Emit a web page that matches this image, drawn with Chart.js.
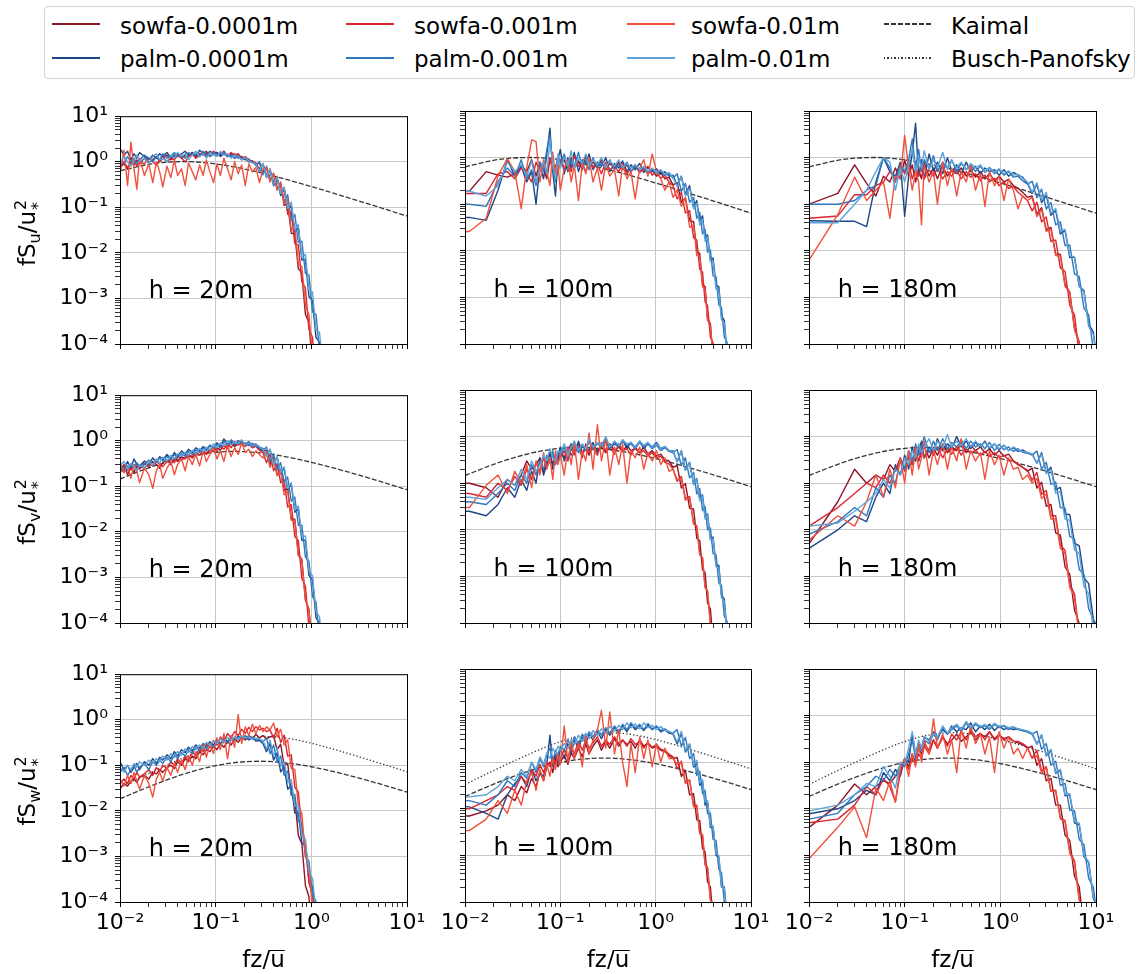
<!DOCTYPE html>
<html>
<head>
<meta charset="utf-8">
<title>Velocity spectra</title>
<script src="https://cdn.jsdelivr.net/npm/chart.js@4.4.6/dist/chart.umd.min.js"></script>
<style>
  body { margin: 0; background: #fff; font-family: "DejaVu Sans", sans-serif; color: #000; }
  #page { position: relative; width: 1137px; height: 974px; overflow: hidden; }
  canvas { position: absolute; }
  #legend { position: absolute; left: 44px; top: 6px; width: 1091px; height: 73px; box-sizing: border-box;
            border: 1px solid #d4d4d4; border-radius: 4px; background: #fff; }
  .lg-line { position: absolute; width: 48px; height: 1.6px; }
  .lg-text { position: absolute; font-size: 23px; line-height: 22px; white-space: nowrap; }
  .ytitle { position: absolute; font-size: 23px; line-height: 23px; white-space: nowrap;
            transform: translate(-50%, -50%) rotate(-90deg); }
  .xtitle { position: absolute; font-size: 23px; line-height: 23px; white-space: nowrap; transform: translateX(-50%); }
  .sb { font-size: 16px; vertical-align: -5px; line-height: 0; }
  .ss { display: inline-block; position: relative; width: 11px; height: 0; }
  .sp { position: absolute; left: 1px; bottom: 6px; font-size: 16px; line-height: 16px; }
  .sk { position: absolute; left: 1px; top: -5px; font-size: 16px; line-height: 16px; }
  .ob { display: inline-block; border-top: 1.3px solid #000; line-height: 17px; }
</style>
</head>
<body>
<div id="page"><div id="legend"></div></div>
<script>
// ---- labels ----
const SERIES_LABELS = ['sowfa-0.0001m', 'palm-0.0001m', 'sowfa-0.001m', 'palm-0.001m', 'sowfa-0.01m', 'palm-0.01m'];
const SERIES_COLORS = ['#8e1527', '#1e4686', '#db2530', '#2f78bf', '#f0503c', '#5ba3d8'];
const MODEL_LABELS = ['Kaimal', 'Busch-Panofsky'];
const HEIGHT_LABELS = ['h = 20m', 'h = 100m', 'h = 180m'];
const COMPONENTS = ['u', 'v', 'w'];
const X_TICK_VALUES = [0.01, 0.1, 1, 10];
const X_TICK_LABELS = ['10⁻²', '10⁻¹', '10⁰', '10¹'];
const Y_TICK_VALUES = [1e-4, 1e-3, 1e-2, 1e-1, 1, 10];
const Y_TICK_LABELS = ['10⁻⁴', '10⁻³', '10⁻²', '10⁻¹', '10⁰', '10¹'];

// ---- frequency grids (fz/U) ----
const X20 = [0.010,0.011,0.012,0.013,0.014,0.015,0.016,0.018,0.020,0.022,0.024,0.026,0.028,0.031,0.034,0.037,0.040,0.044,0.048,0.052,0.057,0.062,0.068,0.074,0.080,0.087,0.095,0.103,0.112,0.122,0.133,0.145,0.158,0.172,0.187,0.204,0.222,0.242,0.263,0.287,0.312,0.340,0.370,0.403,0.439,0.478,0.520,0.566,0.617,0.672,0.731,0.796,0.867,0.944,1.028,1.119,1.218,1.326];
const X100 = [0.0056,0.0111,0.0167,0.0222,0.0278,0.0333,0.0389,0.0444,0.05,0.0556,0.0611,0.0667,0.0722,0.0778,0.0833,0.0889,0.0944,0.1,0.11,0.12,0.13,0.14,0.155,0.17,0.185,0.2,0.22,0.245,0.27,0.3,0.33,0.37,0.41,0.45,0.5,0.55,0.61,0.68,0.75,0.83,0.92,1.02,1.13,1.25,1.38,1.52,1.68,1.86,2.05,2.27,2.5,2.7,2.9,3.1,3.3,3.5,3.75,4.0,4.3,4.6,4.9,5.25,5.6,6.0];
const X180 = [0.01,0.02,0.03,0.04,0.05,0.06,0.07,0.08,0.09,0.1,0.11,0.12,0.13,0.14,0.15,0.16,0.18,0.2,0.22,0.25,0.28,0.31,0.35,0.39,0.44,0.49,0.55,0.62,0.69,0.77,0.87,0.97,1.09,1.22,1.37,1.53,1.71,1.92,2.15,2.41,2.7,3.02,3.38,3.79,4.24,4.75,5.32,5.96,6.68,7.48,8.38,9.38,10.5];
const MODEL_X = [0.01,0.02,0.03,0.05,0.07,0.1,0.15,0.2,0.3,0.5,0.7,1,1.5,2,3,5,7,10];

// ---- reference spectra ----
const KAIMAL_U = [0.634,0.876,0.972,1.005,0.971,0.897,0.783,0.694,0.571,0.432,0.355,0.285,0.222,0.184,0.142,0.102,0.0815,0.0643];
const KAIMAL_V = [0.146,0.2545,0.336,0.445,0.509,0.559,0.583,0.576,0.539,0.461,0.400,0.337,0.272,0.231,0.181,0.132,0.106,0.0843];
const KAIMAL_W = [0.0184,0.0338,0.0469,0.0676,0.0827,0.0984,0.1132,0.1199,0.1228,0.1155,0.1057,0.093,0.0777,0.0672,0.0539,0.0399,0.0324,0.0259];
const BUSCH_W = [0.0335,0.0662,0.098,0.157,0.210,0.277,0.355,0.399,0.431,0.405,0.361,0.306,0.244,0.205,0.159,0.114,0.0915,0.0722];

// ---- h = 20m ----
const U20_S1 = [0.75,0.9,0.7,1.0,0.85,1.1,0.9,1.2,0.95,1.1,1.3,1.0,1.2,1.4,1.1,1.3,1.5,1.2,1.4,1.3,1.6,1.2,1.5,1.4,1.7,1.3,1.5,1.6,1.4,1.7,1.3,1.5,1.2,1.4,1.1,1.2,1.0,1.05,0.85,0.95,0.6,0.75,0.4,0.55,0.26,0.32,0.11,0.12,0.027,0.026,0.0045,0.0036,4.5e-4,3e-4,3.2e-5,null,null,null];
const U20_P1 = [2.0,1.4,1.7,1.1,1.5,1.2,1.6,1.3,1.1,1.4,1.2,1.5,1.3,1.6,1.2,1.4,1.3,1.5,1.7,1.4,1.6,1.3,1.8,1.5,1.4,1.7,1.5,1.6,1.3,1.5,1.4,1.3,1.5,1.2,1.3,1.1,1.15,0.95,0.9,0.6,0.9,0.45,0.65,0.3,0.42,0.18,0.25,0.085,0.11,0.028,0.036,0.007,0.0072,0.0011,9e-4,1.4e-4,1.1e-4,1.6e-5];
const U20_S2 = [0.8,1.0,0.75,0.9,1.1,0.8,1.0,0.9,1.2,1.0,0.85,1.1,1.3,1.0,1.2,1.1,1.4,1.2,1.0,1.3,1.5,1.2,1.4,1.6,1.3,1.5,1.7,1.4,1.6,1.5,1.3,1.6,1.4,1.5,1.2,1.3,1.1,1.0,0.95,0.7,0.9,0.5,0.7,0.36,0.48,0.2,0.27,0.07,0.08,0.016,0.015,0.0023,0.0017,2.1e-4,1.4e-4,1.6e-5,null,null];
const U20_P2 = [1.1,0.9,1.3,1.0,1.2,0.9,1.1,1.4,1.2,1.0,1.3,1.1,1.5,1.2,1.3,1.6,1.3,1.4,1.2,1.6,1.4,1.5,1.3,1.7,1.5,1.3,1.6,1.4,1.5,1.6,1.3,1.4,1.2,1.35,1.15,1.2,1.0,1.0,0.85,1.0,0.52,0.8,0.38,0.56,0.24,0.35,0.13,0.19,0.052,0.07,0.017,0.018,0.0035,0.0033,5e-4,4.5e-4,7e-5,6e-5];
const U20_S3 = [0.55,1.8,0.3,2.7,0.7,0.25,1.2,0.5,0.9,0.35,1.0,0.6,0.28,0.8,0.45,1.1,0.5,0.7,0.3,0.95,0.6,0.4,0.85,0.5,1.1,0.6,0.35,0.9,0.5,1.2,0.7,0.4,1.0,0.55,0.85,0.3,0.9,0.6,0.75,0.35,0.7,0.75,0.36,0.55,0.24,0.36,0.12,0.15,0.032,0.036,0.0058,0.005,7e-4,4.5e-4,5.5e-5,3.2e-5,null,null];
const U20_P3 = [0.95,1.3,1.0,0.8,1.1,1.4,1.0,1.2,0.9,1.3,1.5,1.1,1.2,1.0,1.4,1.2,1.6,1.3,1.5,1.1,1.4,1.7,1.3,1.5,1.2,1.6,1.4,1.3,1.7,1.4,1.5,1.2,1.4,1.3,1.1,1.25,1.05,0.95,0.9,0.62,0.92,0.46,0.68,0.32,0.46,0.2,0.28,0.095,0.13,0.032,0.042,0.008,0.0093,0.0015,0.0014,2e-4,1.8e-4,2.8e-5];

const V20_S1 = [0.22,0.3,0.18,0.26,0.2,0.28,0.24,0.32,0.27,0.35,0.3,0.25,0.33,0.38,0.3,0.42,0.35,0.45,0.4,0.5,0.42,0.55,0.48,0.6,0.52,0.65,0.58,0.7,0.62,0.8,0.68,0.9,0.75,0.85,0.95,0.78,0.9,0.72,0.8,0.65,0.6,0.62,0.3,0.43,0.18,0.23,0.08,0.09,0.019,0.019,0.0032,0.0025,3.2e-4,2e-4,2.6e-5,null,null,null];
const V20_P1 = [0.3,0.22,0.35,0.25,0.4,0.3,0.28,0.36,0.3,0.42,0.34,0.45,0.38,0.5,0.4,0.55,0.45,0.6,0.5,0.65,0.55,0.7,0.6,0.75,0.65,0.8,0.7,0.9,0.75,1.1,0.85,0.95,0.8,1.0,0.9,0.85,0.95,0.8,0.85,0.72,0.68,0.45,0.65,0.3,0.44,0.19,0.25,0.085,0.11,0.027,0.032,0.0065,0.0066,0.0011,9e-4,1.3e-4,1e-4,1.4e-5];
const V20_S2 = [0.25,0.2,0.28,0.23,0.3,0.22,0.27,0.25,0.33,0.28,0.36,0.3,0.27,0.35,0.4,0.33,0.45,0.38,0.42,0.5,0.45,0.55,0.48,0.62,0.5,0.58,0.7,0.6,0.75,0.65,0.85,0.7,0.95,0.8,0.9,0.75,0.85,0.7,0.75,0.62,0.55,0.33,0.52,0.22,0.31,0.12,0.14,0.035,0.04,0.0078,0.0065,9.5e-4,6.5e-4,8e-5,5e-5,null,null,null];
const V20_P2 = [0.2,0.27,0.22,0.3,0.25,0.33,0.27,0.3,0.38,0.3,0.35,0.42,0.36,0.45,0.38,0.5,0.42,0.52,0.46,0.58,0.5,0.62,0.55,0.7,0.6,0.78,0.66,0.82,0.72,0.95,0.8,1.05,0.85,0.95,0.82,0.9,0.78,0.88,0.75,0.7,0.62,0.73,0.34,0.52,0.23,0.33,0.12,0.16,0.047,0.058,0.014,0.014,0.0028,0.0023,3.8e-4,2.9e-4,4.5e-5,3.2e-5];
const V20_S3 = [0.35,0.2,0.28,0.15,0.3,0.22,0.12,0.25,0.18,0.09,0.22,0.3,0.15,0.25,0.35,0.18,0.3,0.4,0.22,0.45,0.3,0.5,0.28,0.6,0.35,0.5,0.7,0.4,0.6,0.35,0.8,0.45,0.7,0.5,0.9,0.55,0.65,0.45,0.6,0.5,0.42,0.57,0.26,0.39,0.17,0.22,0.065,0.08,0.018,0.018,0.003,0.0024,3.2e-4,2e-4,2.6e-5,null,null,null];
const V20_P3 = [0.28,0.35,0.25,0.32,0.27,0.22,0.3,0.26,0.34,0.29,0.4,0.32,0.44,0.36,0.48,0.4,0.52,0.45,0.56,0.48,0.62,0.52,0.68,0.58,0.72,0.62,0.85,0.7,0.9,0.78,1.0,0.82,0.92,0.86,1.05,0.8,0.9,0.76,0.82,0.74,0.66,0.45,0.65,0.3,0.44,0.2,0.27,0.09,0.12,0.03,0.037,0.0078,0.0081,0.0014,0.0011,1.8e-4,1.35e-4,1.9e-5];

const W20_S1 = [0.03,0.04,0.035,0.045,0.05,0.042,0.055,0.06,0.05,0.07,0.065,0.08,0.07,0.09,0.1,0.085,0.12,0.1,0.14,0.12,0.16,0.14,0.2,0.17,0.22,0.2,0.26,0.22,0.3,0.25,0.33,0.28,0.38,0.32,0.42,0.36,0.45,0.38,0.48,0.4,0.45,0.38,0.42,0.45,0.22,0.29,0.1,0.11,0.023,0.019,0.0029,0.0019,2.3e-4,1.3e-4,1.4e-5,null,null,null];
const W20_P1 = [0.12,0.08,0.1,0.07,0.09,0.11,0.08,0.12,0.1,0.14,0.11,0.15,0.13,0.17,0.14,0.2,0.16,0.22,0.19,0.25,0.21,0.28,0.24,0.3,0.26,0.33,0.28,0.36,0.3,0.4,0.33,0.42,0.35,0.44,0.38,0.42,0.36,0.4,0.34,0.35,0.3,0.2,0.3,0.13,0.19,0.072,0.095,0.03,0.036,0.009,0.0095,0.002,0.0017,2.9e-4,2.2e-4,3.9e-5,2.8e-5,null];
const W20_S2 = [0.04,0.05,0.04,0.06,0.05,0.07,0.055,0.065,0.08,0.06,0.09,0.075,0.1,0.085,0.12,0.1,0.14,0.11,0.16,0.13,0.2,0.16,0.24,0.2,0.3,0.24,0.35,0.28,0.42,0.33,0.5,0.4,0.55,0.45,0.62,0.5,0.68,0.55,0.7,0.6,0.65,0.55,0.6,0.4,0.65,0.32,0.46,0.16,0.17,0.033,0.026,0.0036,0.0022,2.6e-4,1.45e-4,1.6e-5,null,null];
const W20_P2 = [0.07,0.09,0.06,0.08,0.1,0.07,0.09,0.11,0.08,0.12,0.1,0.13,0.11,0.15,0.12,0.17,0.14,0.19,0.16,0.22,0.18,0.25,0.21,0.28,0.23,0.3,0.26,0.34,0.28,0.37,0.31,0.4,0.34,0.42,0.37,0.45,0.38,0.42,0.36,0.38,0.33,0.4,0.18,0.28,0.12,0.16,0.06,0.075,0.022,0.023,0.0058,0.0052,0.001,8e-4,1.4e-4,1.05e-4,1.7e-5,null];
const W20_S3 = [0.05,0.035,0.06,0.04,0.07,0.045,0.03,0.06,0.04,0.02,0.05,0.07,0.045,0.09,0.06,0.11,0.07,0.13,0.08,0.16,0.1,0.2,0.12,0.28,0.15,0.3,0.18,0.4,0.22,0.5,0.14,0.45,0.25,1.3,0.3,0.7,0.45,0.8,0.5,0.75,0.55,0.7,0.6,0.85,0.42,0.62,0.28,0.36,0.085,0.08,0.013,0.0087,0.001,6e-4,6.8e-5,3.8e-5,null,null];
const W20_P3 = [0.09,0.07,0.1,0.08,0.11,0.09,0.12,0.1,0.13,0.11,0.14,0.12,0.16,0.13,0.18,0.15,0.2,0.17,0.23,0.19,0.26,0.22,0.28,0.24,0.32,0.27,0.35,0.3,0.38,0.32,0.41,0.35,0.43,0.37,0.44,0.4,0.42,0.38,0.4,0.37,0.35,0.23,0.36,0.16,0.24,0.095,0.12,0.043,0.048,0.013,0.013,0.0029,0.0023,4.5e-4,3.3e-4,5.8e-5,4.2e-5,null];

// ---- h = 100m ----
const U100_S1 = [0.19,0.19,0.5,0.42,0.38,0.45,0.7,0.5,0.9,0.4,0.8,0.55,0.35,0.9,0.6,0.45,1.1,0.7,0.9,0.5,1.0,0.6,0.85,0.55,1.1,0.7,0.8,0.6,0.9,0.55,0.75,0.6,0.8,0.55,0.7,0.5,0.65,0.48,0.6,0.45,0.55,0.4,0.48,0.35,0.38,0.26,0.29,0.11,0.135,0.044,0.042,0.0098,0.0087,0.0019,0.0017,3.5e-4,2.7e-4,4.9e-5,3.2e-5,null,null,null,null,null];
const U100_P1 = [0.05,0.052,0.045,0.2,0.9,0.4,0.65,0.3,0.5,0.1,0.7,0.35,1.2,4.3,0.5,0.15,0.9,1.5,0.45,1.0,0.6,1.3,0.5,0.9,0.7,1.2,0.55,0.8,0.65,1.0,0.5,0.75,0.6,0.85,0.5,0.7,0.55,0.75,0.48,0.62,0.5,0.58,0.44,0.5,0.4,0.42,0.25,0.4,0.16,0.25,0.086,0.12,0.043,0.056,0.019,0.022,0.0065,0.007,0.0018,0.0017,4e-4,3.2e-4,6.5e-5,4.9e-5];
const U100_S2 = [0.17,0.17,0.17,0.45,0.5,0.35,0.6,0.45,0.3,0.8,0.5,0.7,0.4,1.0,0.55,0.7,0.45,0.9,0.6,0.8,0.5,1.1,0.65,0.75,0.5,0.9,0.6,0.7,0.45,0.8,0.55,0.65,0.5,0.75,0.45,0.6,0.7,0.5,0.55,0.65,0.42,0.5,0.36,0.42,0.3,0.25,0.13,0.18,0.065,0.073,0.019,0.017,0.004,0.0035,8e-4,6.7e-4,1.4e-4,1.05e-4,1.8e-5,null,null,null,null,null];
const U100_P2 = [0.1,0.1,0.09,0.3,0.6,0.4,0.9,0.35,0.55,0.25,0.8,0.5,1.5,3.0,0.6,0.3,1.1,0.7,1.2,0.55,0.9,0.65,1.3,0.6,0.85,0.55,1.0,0.6,0.8,0.6,0.9,0.55,0.7,0.6,0.8,0.5,0.65,0.55,0.6,0.5,0.56,0.45,0.52,0.42,0.45,0.36,0.45,0.19,0.28,0.11,0.14,0.05,0.067,0.023,0.029,0.0094,0.0105,0.0029,0.0028,6.8e-4,6.2e-4,1.4e-4,1.1e-4,2.2e-5];
const U100_S3 = [0.026,0.026,0.05,0.4,0.95,0.5,0.08,0.6,2.4,2.2,0.3,0.9,0.5,0.25,1.3,0.4,0.7,0.2,0.6,0.9,0.3,0.7,0.12,0.8,0.45,1.0,0.3,0.6,0.2,0.75,0.4,0.55,0.15,0.7,0.35,0.5,0.13,0.6,0.9,0.4,1.2,0.5,0.35,0.2,0.3,0.14,0.2,0.09,0.14,0.032,0.035,0.0079,0.0077,0.0017,0.0015,3.2e-4,2.5e-4,5e-5,3.4e-5,null,null,null,null,null];
const U100_P3 = [0.19,0.19,0.15,0.25,0.8,0.5,0.7,0.4,0.85,0.3,0.55,0.8,0.45,2.5,0.7,0.35,1.2,0.6,1.0,0.7,1.4,0.6,1.0,0.75,1.2,0.65,0.9,0.7,1.0,0.6,0.85,0.65,0.9,0.6,0.75,0.6,0.7,0.55,0.65,0.5,0.6,0.48,0.55,0.44,0.48,0.38,0.24,0.39,0.15,0.22,0.079,0.105,0.036,0.048,0.016,0.02,0.0058,0.006,0.0015,0.0014,3.3e-4,2.8e-4,6.1e-5,4.5e-5];

const V100_S1 = [0.1,0.1,0.08,0.05,0.12,0.09,0.15,0.3,0.2,0.25,0.35,0.18,0.3,0.45,0.25,0.4,0.3,0.5,0.35,0.6,0.4,0.5,0.7,0.45,0.55,0.4,0.65,0.5,0.6,0.45,0.7,0.5,0.6,0.48,0.65,0.5,0.55,0.45,0.6,0.42,0.5,0.38,0.42,0.32,0.3,0.22,0.24,0.079,0.098,0.029,0.028,0.0065,0.0059,0.0014,0.0012,2.7e-4,2e-4,4e-5,2.5e-5,null,null,null,null,null];
const V100_P1 = [0.025,0.025,0.02,0.035,0.08,0.05,0.12,0.07,0.18,0.1,0.35,0.15,0.25,0.45,0.2,0.35,0.3,0.6,0.3,0.5,0.7,0.4,0.8,0.45,0.6,0.5,0.75,0.45,0.65,0.8,0.55,0.7,0.6,0.85,0.55,0.75,0.6,0.8,0.55,0.7,0.6,0.75,0.55,0.6,0.5,0.5,0.29,0.5,0.19,0.28,0.094,0.126,0.045,0.056,0.019,0.022,0.0065,0.007,0.0018,0.0017,4e-4,3.2e-4,6.5e-5,4.9e-5];
const V100_S2 = [0.06,0.06,0.05,0.1,0.07,0.14,0.09,0.2,0.12,0.28,0.18,0.35,0.22,0.3,0.4,0.25,0.45,0.35,0.5,0.3,0.55,0.42,0.6,0.35,0.7,0.45,0.55,0.4,0.75,0.5,0.6,0.42,0.7,0.5,0.55,0.4,0.6,0.45,0.5,0.38,0.45,0.34,0.38,0.28,0.26,0.2,0.11,0.14,0.047,0.052,0.014,0.012,0.003,0.0025,5.8e-4,4.9e-4,9.7e-5,7e-5,1.2e-5,null,null,null,null,null];
const V100_P2 = [0.04,0.04,0.035,0.06,0.1,0.07,0.15,0.1,0.25,0.15,0.3,0.2,0.4,0.3,0.5,0.25,0.45,0.4,0.6,0.35,0.55,0.7,0.45,0.65,0.5,0.8,0.55,0.7,0.6,0.9,0.55,0.75,0.6,0.8,0.65,0.7,0.55,0.75,0.6,0.7,0.55,0.65,0.5,0.58,0.48,0.45,0.53,0.24,0.35,0.13,0.17,0.059,0.077,0.026,0.032,0.01,0.011,0.0031,0.0029,7.2e-4,6.4e-4,1.4e-4,1.1e-4,2.2e-5];
const V100_S3 = [0.03,0.03,0.09,0.15,0.06,0.18,0.1,0.25,0.08,0.3,0.15,0.45,0.2,0.35,0.12,0.5,0.25,0.4,0.15,0.6,0.25,0.8,0.12,0.5,0.3,1.2,0.2,1.8,0.3,0.9,0.15,0.6,0.25,0.7,0.1,0.5,0.35,0.6,0.2,0.45,0.3,0.5,0.25,0.35,0.18,0.2,0.12,0.126,0.043,0.049,0.013,0.012,0.0029,0.0025,5.8e-4,4.8e-4,9.4e-5,7e-5,1.2e-5,null,null,null,null,null];
const V100_P3 = [0.05,0.05,0.045,0.08,0.12,0.09,0.2,0.12,0.3,0.18,0.25,0.4,0.3,0.55,0.35,0.3,0.5,0.45,0.7,0.4,0.6,0.8,0.5,0.7,0.55,0.9,0.6,0.75,0.65,1.0,0.6,0.8,0.65,0.85,0.7,0.75,0.6,0.8,0.65,0.75,0.6,0.7,0.55,0.62,0.5,0.48,0.29,0.49,0.19,0.27,0.094,0.123,0.042,0.053,0.017,0.021,0.0061,0.0064,0.0016,0.0015,3.5e-4,2.9e-4,6.1e-5,4.5e-5];

const W100_S1 = [0.007,0.007,0.009,0.012,0.02,0.015,0.03,0.022,0.045,0.03,0.06,0.04,0.08,0.1,0.06,0.12,0.08,0.1,0.14,0.09,0.16,0.12,0.2,0.13,0.25,0.15,0.22,0.3,0.18,0.28,0.2,0.32,0.22,0.3,0.24,0.28,0.2,0.3,0.22,0.26,0.2,0.22,0.18,0.17,0.14,0.12,0.126,0.05,0.066,0.02,0.021,0.0058,0.0056,0.0014,0.0012,2.7e-4,2.1e-4,4.3e-5,2.8e-5,null,null,null,null,null];
const W100_P1 = [0.012,0.011,0.008,0.006,0.02,0.035,0.05,0.03,0.07,0.04,0.06,0.05,0.09,0.38,0.08,0.15,0.1,0.2,0.12,0.25,0.15,0.3,0.2,0.35,0.25,0.4,0.3,0.45,0.32,0.5,0.38,0.55,0.42,0.6,0.45,0.65,0.5,0.6,0.48,0.62,0.5,0.58,0.45,0.5,0.42,0.4,0.245,0.42,0.166,0.24,0.079,0.098,0.032,0.039,0.012,0.014,0.004,0.0041,0.001,9.1e-4,2.1e-4,2.1e-4,4.7e-5,3.4e-5];
const W100_S2 = [0.01,0.01,0.015,0.02,0.03,0.025,0.05,0.035,0.07,0.05,0.09,0.06,0.1,0.08,0.13,0.09,0.15,0.12,0.18,0.12,0.22,0.15,0.28,0.18,0.3,0.2,0.26,0.35,0.22,0.3,0.24,0.35,0.25,0.3,0.22,0.32,0.24,0.28,0.2,0.26,0.21,0.24,0.19,0.18,0.15,0.13,0.072,0.106,0.036,0.042,0.0115,0.012,0.003,0.0028,6.5e-4,5.6e-4,1.15e-4,9.1e-5,1.6e-5,null,null,null,null,null];
const W100_P2 = [0.015,0.015,0.012,0.02,0.04,0.03,0.06,0.045,0.1,0.06,0.12,0.08,0.15,0.2,0.1,0.18,0.14,0.22,0.18,0.3,0.22,0.35,0.25,0.4,0.3,0.45,0.35,0.5,0.38,0.55,0.42,0.6,0.45,0.65,0.5,0.7,0.55,0.65,0.5,0.68,0.52,0.6,0.48,0.52,0.44,0.42,0.5,0.22,0.34,0.12,0.154,0.052,0.064,0.021,0.025,0.0079,0.0081,0.0022,0.0021,5e-4,4.3e-4,1e-4,8.4e-5,1.6e-5];
const W100_S3 = [0.0034,0.0034,0.006,0.015,0.008,0.025,0.012,0.04,0.06,0.025,0.07,0.04,0.09,0.05,0.12,0.07,0.15,0.09,0.6,0.1,0.3,0.12,0.25,0.08,0.4,0.15,0.3,0.5,1.3,0.2,1.2,0.15,0.5,0.1,0.03,0.25,0.06,0.35,0.12,0.3,0.08,0.25,0.1,0.2,0.12,0.12,0.09,0.1,0.035,0.041,0.011,0.011,0.0029,0.0027,6.1e-4,5.3e-4,1.1e-4,8.4e-5,1.4e-5,null,null,null,null,null];
const W100_P3 = [0.018,0.018,0.02,0.03,0.05,0.04,0.07,0.05,0.1,0.07,0.13,0.09,0.16,0.12,0.2,0.15,0.22,0.18,0.25,0.2,0.3,0.24,0.38,0.28,0.42,0.32,0.48,0.38,0.52,0.42,0.58,0.46,0.62,0.5,0.7,0.55,0.66,0.52,0.7,0.55,0.62,0.5,0.58,0.48,0.46,0.42,0.27,0.46,0.18,0.25,0.086,0.11,0.036,0.043,0.014,0.015,0.0043,0.0043,0.0011,9.8e-4,2.2e-4,2e-4,4.5e-5,3.4e-5];

// ---- h = 180m ----
const U180_S1 = [0.1,0.17,0.7,0.28,0.15,0.4,0.3,0.6,0.35,0.9,0.4,0.7,0.3,0.55,0.35,0.8,0.4,0.6,0.35,0.65,0.4,0.55,0.45,0.6,0.4,0.55,0.38,0.5,0.35,0.45,0.32,0.4,0.3,0.34,0.25,0.22,0.18,0.14,0.15,0.061,0.084,0.028,0.032,0.0086,0.0084,0.0019,0.0013,2.2e-4,1.1e-4,1.4e-5,null,null,null];
const U180_P1 = [0.044,0.043,0.043,0.033,0.3,1.0,0.5,0.4,0.8,0.055,0.4,1.2,5.5,0.4,0.9,0.35,1.2,0.5,0.8,0.45,1.0,0.5,0.7,0.45,0.8,0.5,0.65,0.45,0.6,0.5,0.55,0.42,0.55,0.4,0.48,0.42,0.38,0.28,0.17,0.27,0.108,0.154,0.058,0.073,0.023,0.027,0.0072,0.0073,0.0017,0.0014,2.7e-4,1.8e-4,2.9e-5];
const U180_S2 = [0.05,0.056,0.16,0.16,0.25,0.3,0.5,0.35,0.7,0.45,0.8,0.35,0.6,0.4,0.7,0.35,0.55,0.4,0.6,0.35,0.5,0.4,0.55,0.35,0.5,0.38,0.45,0.32,0.42,0.3,0.36,0.25,0.3,0.22,0.24,0.18,0.15,0.12,0.072,0.11,0.042,0.053,0.016,0.017,0.0043,0.0036,6.8e-4,4.2e-4,5.8e-5,2.8e-5,null,null,null];
const U180_P2 = [0.1,0.1,0.12,0.2,0.25,1.0,0.6,0.3,0.7,0.5,0.9,2.5,0.6,1.5,0.5,0.9,0.6,1.1,0.5,0.8,0.6,0.9,0.5,0.75,0.55,0.7,0.5,0.65,0.48,0.6,0.45,0.55,0.42,0.5,0.38,0.4,0.32,0.27,0.31,0.137,0.21,0.079,0.109,0.036,0.042,0.013,0.0133,0.0032,0.0028,5.8e-4,4.2e-4,7.2e-5,4.9e-5];
const U180_S3 = [0.0063,0.06,0.38,0.12,0.2,0.3,0.05,0.4,0.35,3.0,0.6,0.2,0.5,0.3,0.036,0.7,0.3,0.5,0.1,0.8,0.25,0.6,0.15,0.5,0.3,0.7,0.2,0.45,0.09,0.5,0.25,0.4,0.12,0.35,0.2,0.08,0.15,0.12,0.14,0.054,0.077,0.026,0.029,0.0079,0.0077,0.0017,0.0013,2e-4,1.05e-4,1.4e-5,null,null,null];
const U180_P3 = [0.04,0.04,0.1,0.2,0.5,1.0,0.8,0.2,0.6,0.3,0.7,1.6,0.5,1.0,0.6,1.4,0.55,0.9,0.6,1.3,0.55,0.85,0.6,0.8,0.55,0.75,0.6,0.7,0.5,0.62,0.48,0.58,0.45,0.52,0.42,0.44,0.36,0.3,0.18,0.29,0.122,0.18,0.065,0.081,0.026,0.029,0.0079,0.0073,0.0017,0.0013,2.4e-4,1.6e-4,2.9e-5];

const V180_S1 = [0.005,0.04,0.2,0.1,0.15,0.12,0.25,0.18,0.35,0.2,0.4,0.25,0.5,0.3,0.45,0.6,0.35,0.55,0.4,0.7,0.45,0.6,0.5,0.75,0.45,0.65,0.5,0.6,0.45,0.55,0.4,0.5,0.38,0.42,0.3,0.25,0.22,0.18,0.21,0.079,0.105,0.032,0.035,0.0086,0.0077,0.0016,0.0011,1.9e-4,9.8e-5,1.3e-5,null,null,null];
const V180_P1 = [0.004,0.01,0.02,0.015,0.05,0.1,0.06,0.25,0.15,0.4,0.2,0.6,0.3,0.5,0.8,0.35,0.6,0.45,0.9,0.5,0.7,0.55,1.0,0.6,0.8,0.55,0.75,0.6,0.8,0.55,0.7,0.52,0.65,0.5,0.58,0.48,0.52,0.45,0.42,0.27,0.45,0.17,0.22,0.072,0.081,0.022,0.021,0.0052,0.0045,9.4e-4,7e-4,1.2e-4,7.7e-5];
const V180_S2 = [0.012,0.03,0.06,0.1,0.08,0.15,0.1,0.2,0.3,0.18,0.35,0.25,0.4,0.3,0.55,0.35,0.5,0.4,0.6,0.35,0.55,0.42,0.6,0.4,0.55,0.45,0.5,0.4,0.48,0.38,0.45,0.35,0.4,0.32,0.3,0.26,0.22,0.19,0.115,0.17,0.058,0.07,0.02,0.02,0.0047,0.0036,6.8e-4,4.2e-4,5.8e-5,2.8e-5,null,null,null];
const V180_P2 = [0.008,0.015,0.03,0.02,0.08,0.05,0.15,0.1,0.3,0.2,0.5,0.3,0.7,0.4,0.6,1.0,0.45,0.8,0.5,0.9,0.55,0.75,0.6,0.85,0.55,0.8,0.6,0.7,0.55,0.75,0.5,0.68,0.52,0.6,0.48,0.55,0.46,0.44,0.4,0.49,0.2,0.28,0.094,0.106,0.03,0.029,0.0072,0.0064,0.0014,0.0011,2e-4,1.26e-4,2e-5];
const V180_S3 = [0.006,0.02,0.012,0.04,0.15,0.05,0.2,0.08,0.35,0.1,0.5,0.15,0.6,0.2,0.35,0.8,0.15,0.5,0.25,0.7,0.2,0.6,0.3,0.9,0.2,0.5,0.3,0.45,0.12,0.5,0.25,0.4,0.15,0.35,0.2,0.22,0.12,0.15,0.1,0.126,0.047,0.059,0.017,0.017,0.004,0.0031,5.8e-4,3.6e-4,5e-5,2.5e-5,null,null,null];
const V180_P3 = [0.012,0.014,0.025,0.04,0.06,0.12,0.08,0.2,0.15,0.35,0.25,0.5,0.35,0.7,0.45,0.6,0.9,0.5,0.8,0.6,1.1,0.6,0.8,0.65,0.9,0.6,0.8,0.62,0.75,0.58,0.7,0.55,0.65,0.5,0.6,0.52,0.48,0.46,0.42,0.27,0.42,0.16,0.2,0.061,0.066,0.017,0.016,0.0037,0.0031,6.1e-4,4.2e-4,7.2e-5,4.2e-5];

const W180_S1 = [0.004,0.012,0.034,0.02,0.03,0.04,0.035,0.05,0.06,0.12,0.08,0.15,0.1,0.2,0.15,0.25,0.18,0.3,0.2,0.35,0.25,0.3,0.4,0.28,0.35,0.45,0.3,0.4,0.35,0.45,0.3,0.38,0.32,0.35,0.28,0.26,0.24,0.2,0.22,0.086,0.119,0.04,0.045,0.012,0.012,0.0027,0.0021,3.6e-4,2.1e-4,2.7e-5,null,null,null];
const W180_P1 = [0.0078,0.01,0.015,0.025,0.02,0.06,0.04,0.07,0.05,0.12,0.1,0.4,0.15,0.25,0.2,0.35,0.3,0.45,0.35,0.5,0.4,0.6,0.45,0.55,0.5,0.7,0.45,0.6,0.5,0.65,0.48,0.6,0.5,0.55,0.5,0.52,0.48,0.45,0.4,0.245,0.38,0.137,0.18,0.058,0.067,0.019,0.02,0.005,0.0045,9.4e-4,7e-4,1.2e-4,7.7e-5];
const W180_S2 = [0.005,0.006,0.012,0.03,0.02,0.045,0.03,0.014,0.06,0.1,0.07,0.12,0.09,0.15,0.12,0.22,0.15,0.3,0.2,0.35,0.22,0.4,0.3,0.45,0.3,0.5,0.35,0.42,0.3,0.45,0.32,0.4,0.3,0.35,0.28,0.28,0.25,0.21,0.122,0.18,0.065,0.081,0.024,0.025,0.0065,0.0056,0.0012,7.7e-4,1.15e-4,5.6e-5,null,null,null];
const W180_P2 = [0.006,0.008,0.02,0.03,0.05,0.04,0.07,0.05,0.09,0.08,0.15,0.3,0.12,0.22,0.18,0.3,0.25,0.4,0.3,0.55,0.4,0.5,0.6,0.45,0.7,0.5,0.65,0.55,0.6,0.5,0.65,0.55,0.6,0.5,0.55,0.5,0.48,0.45,0.4,0.46,0.19,0.25,0.086,0.105,0.032,0.035,0.0094,0.0091,0.0022,0.0017,3.2e-4,2.1e-4,3.6e-5];
const W180_S3 = [0.00085,0.004,0.011,0.0024,0.028,0.015,0.04,0.014,0.08,0.12,0.05,0.15,0.08,0.25,0.1,0.3,0.15,0.85,0.2,0.4,0.15,0.3,0.06,0.5,0.2,0.6,0.25,0.4,0.15,0.35,0.06,0.45,0.2,0.35,0.15,0.2,0.12,0.2,0.12,0.14,0.058,0.077,0.024,0.024,0.0061,0.0052,0.0011,7e-4,1.1e-4,5.3e-5,null,null,null];
const W180_P3 = [0.009,0.012,0.02,0.035,0.03,0.08,0.05,0.028,0.1,0.09,0.2,0.45,0.15,0.3,0.2,0.35,0.28,0.42,0.35,0.6,0.42,0.55,0.65,0.5,0.75,0.55,0.7,0.58,0.65,0.55,0.68,0.58,0.62,0.55,0.58,0.52,0.5,0.47,0.42,0.25,0.39,0.144,0.19,0.061,0.07,0.02,0.021,0.0054,0.0049,0.001,7.3e-4,1.3e-4,8.4e-5];

// ---- panel grid: rows = u, v, w ; columns = heights ----
const PANELS = [
  [[X20, [U20_S1, U20_P1, U20_S2, U20_P2, U20_S3, U20_P3]],
   [X100, [U100_S1, U100_P1, U100_S2, U100_P2, U100_S3, U100_P3]],
   [X180, [U180_S1, U180_P1, U180_S2, U180_P2, U180_S3, U180_P3]]],
  [[X20, [V20_S1, V20_P1, V20_S2, V20_P2, V20_S3, V20_P3]],
   [X100, [V100_S1, V100_P1, V100_S2, V100_P2, V100_S3, V100_P3]],
   [X180, [V180_S1, V180_P1, V180_S2, V180_P2, V180_S3, V180_P3]]],
  [[X20, [W20_S1, W20_P1, W20_S2, W20_P2, W20_S3, W20_P3]],
   [X100, [W100_S1, W100_P1, W100_S2, W100_P2, W100_S3, W100_P3]],
   [X180, [W180_S1, W180_P1, W180_S2, W180_P2, W180_S3, W180_P3]]],
];
const MODELS = [[KAIMAL_U], [KAIMAL_V], [KAIMAL_W, BUSCH_W]];

// ---- layout ----
const COL_LEFT = [120, 465, 809];
const COL_WIDTH = [287, 286, 287];
const ROW_TOP = [111, 390, 669];
const ROW_HEIGHT = 233;
const Y_AXIS_W = 80, X_AXIS_H = 70, PAD_TOP = 15, PAD_RIGHT = 40;
const GRID_COLOR = '#c8c8c8';
const MODEL_STYLE = [{ color: 'rgba(20,20,20,0.85)', dash: [5, 2] }, { color: 'rgba(20,20,20,0.85)', dash: [1.3, 2.2] }];

Chart.defaults.font.family = '"DejaVu Sans", sans-serif';
Chart.defaults.color = '#000';

function withMinors(decades) {
  const out = [];
  decades.forEach((d, i) => {
    out.push({ value: d, major: true });
    if (i < decades.length - 1) for (let m = 2; m <= 9; m++) out.push({ value: m * d, major: false });
  });
  return out;
}

const panelDecor = {
  id: 'panelDecor',
  afterDatasetsDraw(chart, args, opts) {
    const a = chart.chartArea, ctx = chart.ctx;
    ctx.save();
    ctx.strokeStyle = '#000';
    ctx.lineWidth = 1;
    ctx.strokeRect(a.left + 0.5, a.top + 0.5, a.right - a.left, a.bottom - a.top);
    ctx.font = '24px "DejaVu Sans"';
    ctx.fillStyle = '#000';
    ctx.textBaseline = 'alphabetic';
    ctx.fillText(opts.text, a.left + 0.1 * (a.right - a.left), a.top + 0.8 * (a.bottom - a.top));
    ctx.restore();
  }
};

function axis(values, labels, showLabels, isX) {
  const cfg = {
    type: 'logarithmic',
    min: values[0],
    max: values[values.length - 1],
    afterBuildTicks: s => { s.ticks = withMinors(values); },
    grid: {
      color: c => (c.tick && c.tick.major) ? GRID_COLOR : 'rgba(0,0,0,0)',
      lineWidth: 1,
      tickColor: '#000',
      tickLength: 5,
      tickWidth: c => (c.tick && c.tick.major) ? 1 : 0.8,
    },
    border: { display: false },
    ticks: {
      display: showLabels,
      autoSkip: false,
      maxRotation: 0,
      minRotation: 0,
      padding: isX ? 3 : 7,
      font: { size: 22 },
      color: '#000',
      callback: v => { const i = values.indexOf(v); return i >= 0 ? labels[i] : ''; },
    },
  };
  if (isX) cfg.afterFit = s => { s.height = X_AXIS_H; };
  else cfg.afterFit = s => { s.width = Y_AXIS_W; };
  return cfg;
}

const page = document.getElementById('page');

PANELS.forEach((row, r) => {
  row.forEach(([xs, series], c) => {
    const W = COL_WIDTH[c];
    const canvas = document.createElement('canvas');
    canvas.width = Y_AXIS_W + W + PAD_RIGHT;
    canvas.height = PAD_TOP + ROW_HEIGHT + X_AXIS_H;
    canvas.style.left = (COL_LEFT[c] - Y_AXIS_W) + 'px';
    canvas.style.top = (ROW_TOP[r] - PAD_TOP) + 'px';
    page.appendChild(canvas);

    const datasets = [];
    series.forEach((ys, k) => {
      datasets.push({
        label: SERIES_LABELS[k],
        data: xs.map((x, i) => ({ x, y: ys[i] })).filter(p => p.y !== null),
        borderColor: SERIES_COLORS[k],
        borderWidth: 1.4,
        order: 20 - k,
      });
    });
    // reference curves sit underneath the simulated spectra
    MODELS[r].forEach((ys, k) => {
      datasets.push({
        label: MODEL_LABELS[k],
        data: MODEL_X.map((x, i) => ({ x, y: ys[i] })),
        borderColor: MODEL_STYLE[k].color,
        borderDash: MODEL_STYLE[k].dash,
        borderWidth: 1.3,
        cubicInterpolationMode: 'monotone',
        order: 40 + k,
      });
    });

    new Chart(canvas, {
      type: 'line',
      data: { datasets },
      options: {
        responsive: false,
        animation: false,
        events: [],
        layout: { padding: { left: 0, top: PAD_TOP, right: PAD_RIGHT, bottom: 0 } },
        elements: { point: { radius: 0 }, line: { tension: 0, borderJoinStyle: 'round' } },
        plugins: { legend: { display: false }, tooltip: { enabled: false }, panelDecor: { text: HEIGHT_LABELS[c] } },
        scales: {
          x: axis(X_TICK_VALUES, X_TICK_LABELS, r === 2, true),
          y: axis(Y_TICK_VALUES, Y_TICK_LABELS, c === 0, false),
        },
      },
      plugins: [panelDecor],
    });
  });
});

// ---- axis titles ----
COMPONENTS.forEach((comp, r) => {
  const t = document.createElement('div');
  t.className = 'ytitle';
  t.style.left = '27px';
  t.style.top = (ROW_TOP[r] + ROW_HEIGHT / 2 + 5) + 'px';
  t.innerHTML = 'fS<span class="sb">' + comp + '</span>/u<span class="ss"><span class="sp">2</span><span class="sk">*</span></span>';
  page.appendChild(t);
});
COL_LEFT.forEach((left, c) => {
  const t = document.createElement('div');
  t.className = 'xtitle';
  t.style.left = (left + COL_WIDTH[c] / 2) + 'px';
  t.style.top = '948px';
  t.innerHTML = 'fz/<span class="ob">u</span>';
  page.appendChild(t);
});

// ---- legend ----
const LEGEND_HANDLE_X = [52, 346, 627, 884];
const LEGEND_TEXT_X = [120, 414, 691, 951];
const LEGEND_LINE_Y = [24, 58];
const LEGEND_TEXT_TOP = [15, 48];
const legendItems = [];
SERIES_LABELS.forEach((lab, k) => legendItems.push({ lab, color: SERIES_COLORS[k], dash: null }));
MODEL_LABELS.forEach((lab, k) => legendItems.push({ lab, color: MODEL_STYLE[k].color, dash: MODEL_STYLE[k].dash }));
legendItems.forEach((it, n) => {
  const col = Math.floor(n / 2), rw = n % 2;
  const line = document.createElement('div');
  line.className = 'lg-line';
  line.style.left = LEGEND_HANDLE_X[col] + 'px';
  line.style.top = (LEGEND_LINE_Y[rw] - 0.8) + 'px';
  if (it.dash) {
    const [on, off] = it.dash;
    line.style.background = 'repeating-linear-gradient(to right, ' + it.color + ' 0 ' + on + 'px, transparent ' + on + 'px ' + (on + off) + 'px)';
  } else {
    line.style.background = it.color;
  }
  page.appendChild(line);
  const txt = document.createElement('div');
  txt.className = 'lg-text';
  txt.style.left = LEGEND_TEXT_X[col] + 'px';
  txt.style.top = LEGEND_TEXT_TOP[rw] + 'px';
  txt.textContent = it.lab;
  page.appendChild(txt);
});
</script>
</body>
</html>
